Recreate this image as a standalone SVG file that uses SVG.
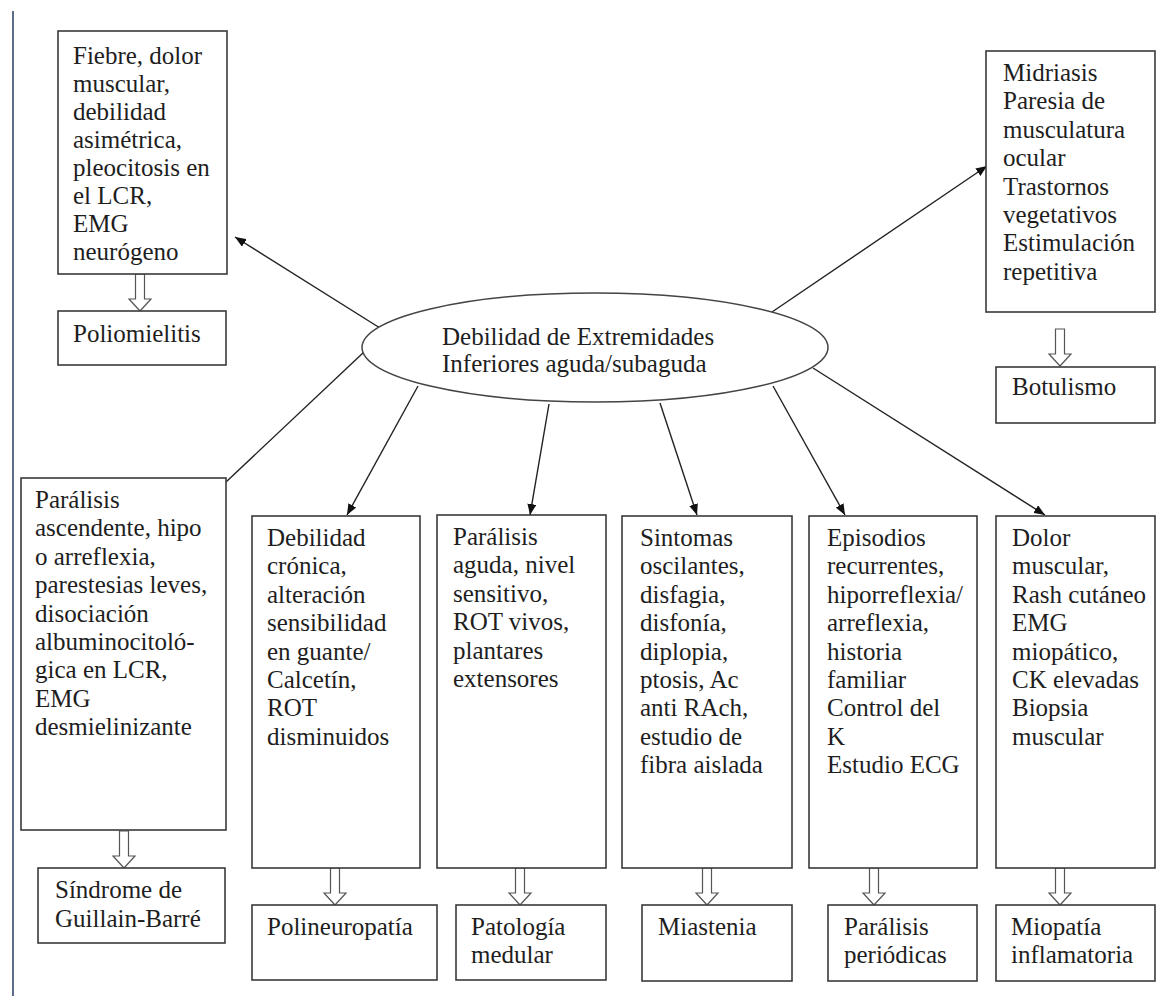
<svg xmlns="http://www.w3.org/2000/svg" width="1157" height="996" viewBox="0 0 1157 996">
<style>
  .box { fill: #ffffff; stroke: #3a3a3a; stroke-width: 1.6; }
  .t { font-family: "Liberation Serif", "Times New Roman", serif; font-size: 25px; fill: #1e1e1e; }
  .conn { stroke: #222222; stroke-width: 1.4; fill: none; }
  .hollow { fill: #ffffff; stroke: #555555; stroke-width: 1.2; }
</style>
<defs>
  <marker id="ah" markerUnits="userSpaceOnUse" markerWidth="11" markerHeight="9" refX="11" refY="4.5" orient="auto">
    <path d="M0,0 L11,4.5 L0,9 Z" fill="#111111"/>
  </marker>
  <path id="harrow" d="M-4.5,0 L4.5,0 L4.5,25 L11,25 L0,37 L-11,25 L-4.5,25 Z"/>
</defs>

<line x1="13" y1="11" x2="13" y2="996" stroke="#5b6b88" stroke-width="2"/>

<g id="connectors">
  <line class="conn" x1="380" y1="328" x2="235" y2="237" marker-end="url(#ah)"/>
  <line class="conn" x1="772" y1="312" x2="987" y2="166" marker-end="url(#ah)"/>
  <line class="conn" x1="364" y1="352" x2="226" y2="482"/>
  <line class="conn" x1="418" y1="386" x2="347" y2="515" marker-end="url(#ah)"/>
  <line class="conn" x1="549" y1="404" x2="530" y2="515" marker-end="url(#ah)"/>
  <line class="conn" x1="660" y1="403" x2="697" y2="515" marker-end="url(#ah)"/>
  <line class="conn" x1="773" y1="386" x2="845" y2="515" marker-end="url(#ah)"/>
  <line class="conn" x1="813" y1="368" x2="1045" y2="515" marker-end="url(#ah)"/>
  <use href="#harrow" class="hollow" transform="translate(140,274)"/>
  <use href="#harrow" class="hollow" transform="translate(1060,329)"/>
  <use href="#harrow" class="hollow" transform="translate(124,831)"/>
  <use href="#harrow" class="hollow" transform="translate(335,868)"/>
  <use href="#harrow" class="hollow" transform="translate(520,868)"/>
  <use href="#harrow" class="hollow" transform="translate(707,868)"/>
  <use href="#harrow" class="hollow" transform="translate(874,868)"/>
  <use href="#harrow" class="hollow" transform="translate(1060,868)"/>
</g>

<g id="center">
  <ellipse cx="595" cy="347.5" rx="233" ry="54.5" fill="#ffffff" stroke="#444444" stroke-width="1.5"/>
  <text class="t" x="442" y="345">Debilidad de Extremidades</text>
  <text class="t" x="442" y="372">Inferiores aguda/subaguda</text>
</g>

<g id="polio-signs">
  <rect class="box" x="58" y="31" width="169" height="243"/>
  <text class="t" x="73" y="64">Fiebre, dolor</text>
  <text class="t" x="73" y="92">muscular,</text>
  <text class="t" x="73" y="120">debilidad</text>
  <text class="t" x="73" y="148">asimétrica,</text>
  <text class="t" x="73" y="176">pleocitosis en</text>
  <text class="t" x="73" y="204">el LCR,</text>
  <text class="t" x="73" y="232">EMG</text>
  <text class="t" x="73" y="260">neurógeno</text>
</g>
<g id="polio">
  <rect class="box" x="58" y="311" width="168" height="54"/>
  <text class="t" x="73" y="342">Poliomielitis</text>
</g>

<g id="botu-signs">
  <rect class="box" x="986" y="51" width="169" height="261"/>
  <text class="t" x="1003" y="81">Midriasis</text>
  <text class="t" x="1003" y="109.4">Paresia de</text>
  <text class="t" x="1003" y="137.8">musculatura</text>
  <text class="t" x="1003" y="166.2">ocular</text>
  <text class="t" x="1003" y="194.6">Trastornos</text>
  <text class="t" x="1003" y="223">vegetativos</text>
  <text class="t" x="1003" y="251.4">Estimulación</text>
  <text class="t" x="1003" y="279.8">repetitiva</text>
</g>
<g id="botu">
  <rect class="box" x="996" y="367" width="159" height="56"/>
  <text class="t" x="1012" y="395">Botulismo</text>
</g>

<g id="gb-signs">
  <rect class="box" x="21" y="478" width="205" height="352"/>
  <text class="t" x="35" y="508">Parálisis</text>
  <text class="t" x="35" y="536.4">ascendente, hipo</text>
  <text class="t" x="35" y="564.8">o arreflexia,</text>
  <text class="t" x="35" y="593.2">parestesias leves,</text>
  <text class="t" x="35" y="621.6">disociación</text>
  <text class="t" x="35" y="650">albuminocitoló-</text>
  <text class="t" x="35" y="678.4">gica en LCR,</text>
  <text class="t" x="35" y="706.8">EMG</text>
  <text class="t" x="35" y="735.2">desmielinizante</text>
</g>
<g id="gb">
  <rect class="box" x="38" y="868" width="187" height="75"/>
  <text class="t" x="55" y="898">Síndrome de</text>
  <text class="t" x="55" y="927">Guillain-Barré</text>
</g>

<g id="poli-signs">
  <rect class="box" x="252" y="516" width="168" height="352"/>
  <text class="t" x="267" y="546">Debilidad</text>
  <text class="t" x="267" y="574.4">crónica,</text>
  <text class="t" x="267" y="602.8">alteración</text>
  <text class="t" x="267" y="631.2">sensibilidad</text>
  <text class="t" x="267" y="659.6">en guante/</text>
  <text class="t" x="267" y="688">Calcetín,</text>
  <text class="t" x="267" y="716.4">ROT</text>
  <text class="t" x="267" y="744.8">disminuidos</text>
</g>
<g id="poli">
  <rect class="box" x="252" y="905" width="185" height="75"/>
  <text class="t" x="267" y="935">Polineuropatía</text>
</g>

<g id="med-signs">
  <rect class="box" x="437" y="515" width="169" height="353"/>
  <text class="t" x="453" y="545">Parálisis</text>
  <text class="t" x="453" y="573.4">aguda, nivel</text>
  <text class="t" x="453" y="601.8">sensitivo,</text>
  <text class="t" x="453" y="630.2">ROT vivos,</text>
  <text class="t" x="453" y="658.6">plantares</text>
  <text class="t" x="453" y="687">extensores</text>
</g>
<g id="med">
  <rect class="box" x="456" y="905" width="150" height="75"/>
  <text class="t" x="471" y="935">Patología</text>
  <text class="t" x="471" y="963">medular</text>
</g>

<g id="mia-signs">
  <rect class="box" x="622" y="516" width="170" height="352"/>
  <text class="t" x="640" y="546">Sintomas</text>
  <text class="t" x="640" y="574.4">oscilantes,</text>
  <text class="t" x="640" y="602.8">disfagia,</text>
  <text class="t" x="640" y="631.2">disfonía,</text>
  <text class="t" x="640" y="659.6">diplopia,</text>
  <text class="t" x="640" y="688">ptosis, Ac</text>
  <text class="t" x="640" y="716.4">anti RAch,</text>
  <text class="t" x="640" y="744.8">estudio de</text>
  <text class="t" x="640" y="773.2">fibra aislada</text>
</g>
<g id="mia">
  <rect class="box" x="642" y="905" width="150" height="76"/>
  <text class="t" x="658" y="935">Miastenia</text>
</g>

<g id="per-signs">
  <rect class="box" x="809" y="516" width="168" height="352"/>
  <text class="t" x="827" y="546">Episodios</text>
  <text class="t" x="827" y="574.4">recurrentes,</text>
  <text class="t" x="827" y="602.8">hiporreflexia/</text>
  <text class="t" x="827" y="631.2">arreflexia,</text>
  <text class="t" x="827" y="659.6">historia</text>
  <text class="t" x="827" y="688">familiar</text>
  <text class="t" x="827" y="716.4">Control del</text>
  <text class="t" x="827" y="744.8">K</text>
  <text class="t" x="827" y="773.2">Estudio ECG</text>
</g>
<g id="per">
  <rect class="box" x="828" y="905" width="149" height="76"/>
  <text class="t" x="844" y="935">Parálisis</text>
  <text class="t" x="844" y="963">periódicas</text>
</g>

<g id="mio-signs">
  <rect class="box" x="996" y="516" width="159" height="352"/>
  <text class="t" x="1012" y="546">Dolor</text>
  <text class="t" x="1012" y="574.4">muscular,</text>
  <text class="t" x="1012" y="602.8">Rash cutáneo</text>
  <text class="t" x="1012" y="631.2">EMG</text>
  <text class="t" x="1012" y="659.6">miopático,</text>
  <text class="t" x="1012" y="688">CK elevadas</text>
  <text class="t" x="1012" y="716.4">Biopsia</text>
  <text class="t" x="1012" y="744.8">muscular</text>
</g>
<g id="mio">
  <rect class="box" x="996" y="905" width="159" height="76"/>
  <text class="t" x="1011" y="935">Miopatía</text>
  <text class="t" x="1011" y="963">inflamatoria</text>
</g>
</svg>
